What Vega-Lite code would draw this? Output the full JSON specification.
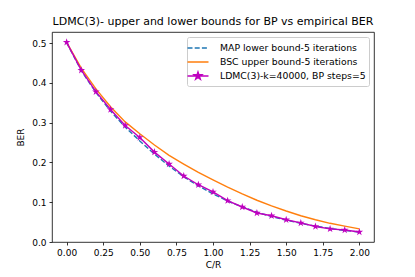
{
  "$schema": "https://vega.github.io/schema/vega-lite/v6.json",
  "autosize": {"type": "none"},
  "width": 322,
  "height": 210,
  "padding": {"left": 52, "top": 32, "right": 41, "bottom": 35},
  "title": {"text": "LDMC(3)- upper and lower bounds for BP vs empirical BER", "fontSize": 11, "font": "DejaVu Sans", "fontWeight": "normal", "color": "#000000", "offset": 5},
  "config": {
    "font": "DejaVu Sans",
    "view": {"stroke": "#000000", "strokeWidth": 0.8},
    "axis": {"domain": false, "grid": false, "tickColor": "#000000", "tickSize": 3, "tickWidth": 0.8, "labelFontSize": 9, "labelColor": "#000000", "labelPadding": 3, "titleFontSize": 9, "titleFontWeight": "normal", "titleColor": "#000000", "labelFont": "DejaVu Sans", "titleFont": "DejaVu Sans"}
  },
  "data": {"values": [
    {"cr": 0.0, "series": "MAP lower bound-5 iterations", "ber": 0.501},
    {"cr": 0.1, "series": "MAP lower bound-5 iterations", "ber": 0.431},
    {"cr": 0.2, "series": "MAP lower bound-5 iterations", "ber": 0.376},
    {"cr": 0.3, "series": "MAP lower bound-5 iterations", "ber": 0.329},
    {"cr": 0.4, "series": "MAP lower bound-5 iterations", "ber": 0.289},
    {"cr": 0.5, "series": "MAP lower bound-5 iterations", "ber": 0.254},
    {"cr": 0.6, "series": "MAP lower bound-5 iterations", "ber": 0.221},
    {"cr": 0.7, "series": "MAP lower bound-5 iterations", "ber": 0.191},
    {"cr": 0.8, "series": "MAP lower bound-5 iterations", "ber": 0.164},
    {"cr": 0.9, "series": "MAP lower bound-5 iterations", "ber": 0.141},
    {"cr": 1.0, "series": "MAP lower bound-5 iterations", "ber": 0.121},
    {"cr": 1.1, "series": "MAP lower bound-5 iterations", "ber": 0.103},
    {"cr": 1.2, "series": "MAP lower bound-5 iterations", "ber": 0.088},
    {"cr": 1.3, "series": "MAP lower bound-5 iterations", "ber": 0.075},
    {"cr": 1.4, "series": "MAP lower bound-5 iterations", "ber": 0.064},
    {"cr": 1.5, "series": "MAP lower bound-5 iterations", "ber": 0.055},
    {"cr": 1.6, "series": "MAP lower bound-5 iterations", "ber": 0.047},
    {"cr": 1.7, "series": "MAP lower bound-5 iterations", "ber": 0.040},
    {"cr": 1.8, "series": "MAP lower bound-5 iterations", "ber": 0.034},
    {"cr": 1.9, "series": "MAP lower bound-5 iterations", "ber": 0.029},
    {"cr": 2.0, "series": "MAP lower bound-5 iterations", "ber": 0.025},
    {"cr": 0.0, "series": "BSC upper bound-5 iterations", "ber": 0.502},
    {"cr": 0.1, "series": "BSC upper bound-5 iterations", "ber": 0.437},
    {"cr": 0.2, "series": "BSC upper bound-5 iterations", "ber": 0.385},
    {"cr": 0.3, "series": "BSC upper bound-5 iterations", "ber": 0.340},
    {"cr": 0.4, "series": "BSC upper bound-5 iterations", "ber": 0.302},
    {"cr": 0.5, "series": "BSC upper bound-5 iterations", "ber": 0.272},
    {"cr": 0.6, "series": "BSC upper bound-5 iterations", "ber": 0.244},
    {"cr": 0.7, "series": "BSC upper bound-5 iterations", "ber": 0.218},
    {"cr": 0.8, "series": "BSC upper bound-5 iterations", "ber": 0.196},
    {"cr": 0.9, "series": "BSC upper bound-5 iterations", "ber": 0.175},
    {"cr": 1.0, "series": "BSC upper bound-5 iterations", "ber": 0.156},
    {"cr": 1.1, "series": "BSC upper bound-5 iterations", "ber": 0.138},
    {"cr": 1.2, "series": "BSC upper bound-5 iterations", "ber": 0.121},
    {"cr": 1.3, "series": "BSC upper bound-5 iterations", "ber": 0.105},
    {"cr": 1.4, "series": "BSC upper bound-5 iterations", "ber": 0.091},
    {"cr": 1.5, "series": "BSC upper bound-5 iterations", "ber": 0.078},
    {"cr": 1.6, "series": "BSC upper bound-5 iterations", "ber": 0.066},
    {"cr": 1.7, "series": "BSC upper bound-5 iterations", "ber": 0.056},
    {"cr": 1.8, "series": "BSC upper bound-5 iterations", "ber": 0.047},
    {"cr": 1.9, "series": "BSC upper bound-5 iterations", "ber": 0.040},
    {"cr": 2.0, "series": "BSC upper bound-5 iterations", "ber": 0.033},
    {"cr": 0.0, "series": "LDMC(3)-k=40000, BP steps=5", "ber": 0.502},
    {"cr": 0.1, "series": "LDMC(3)-k=40000, BP steps=5", "ber": 0.432},
    {"cr": 0.2, "series": "LDMC(3)-k=40000, BP steps=5", "ber": 0.378},
    {"cr": 0.3, "series": "LDMC(3)-k=40000, BP steps=5", "ber": 0.333},
    {"cr": 0.4, "series": "LDMC(3)-k=40000, BP steps=5", "ber": 0.293},
    {"cr": 0.5, "series": "LDMC(3)-k=40000, BP steps=5", "ber": 0.263},
    {"cr": 0.6, "series": "LDMC(3)-k=40000, BP steps=5", "ber": 0.226},
    {"cr": 0.7, "series": "LDMC(3)-k=40000, BP steps=5", "ber": 0.196},
    {"cr": 0.8, "series": "LDMC(3)-k=40000, BP steps=5", "ber": 0.166},
    {"cr": 0.9, "series": "LDMC(3)-k=40000, BP steps=5", "ber": 0.144},
    {"cr": 1.0, "series": "LDMC(3)-k=40000, BP steps=5", "ber": 0.126},
    {"cr": 1.1, "series": "LDMC(3)-k=40000, BP steps=5", "ber": 0.104},
    {"cr": 1.2, "series": "LDMC(3)-k=40000, BP steps=5", "ber": 0.088},
    {"cr": 1.3, "series": "LDMC(3)-k=40000, BP steps=5", "ber": 0.073},
    {"cr": 1.4, "series": "LDMC(3)-k=40000, BP steps=5", "ber": 0.066},
    {"cr": 1.5, "series": "LDMC(3)-k=40000, BP steps=5", "ber": 0.056},
    {"cr": 1.6, "series": "LDMC(3)-k=40000, BP steps=5", "ber": 0.048},
    {"cr": 1.7, "series": "LDMC(3)-k=40000, BP steps=5", "ber": 0.039},
    {"cr": 1.8, "series": "LDMC(3)-k=40000, BP steps=5", "ber": 0.033},
    {"cr": 1.9, "series": "LDMC(3)-k=40000, BP steps=5", "ber": 0.030},
    {"cr": 2.0, "series": "LDMC(3)-k=40000, BP steps=5", "ber": 0.025}
  ]},
  "encoding": {
    "x": {"field": "cr", "type": "quantitative", "title": "C/R",
      "scale": {"domain": [-0.1, 2.1], "nice": false, "zero": false},
      "axis": {"values": [0, 0.25, 0.5, 0.75, 1.0, 1.25, 1.5, 1.75, 2.0], "format": ".2f", "titlePadding": 3}},
    "y": {"field": "ber", "type": "quantitative", "title": "BER",
      "scale": {"domain": [0, 0.528], "nice": false, "zero": false},
      "axis": {"values": [0, 0.1, 0.2, 0.3, 0.4, 0.5], "format": ".1f", "titlePadding": 6}},
    "color": {"field": "series", "type": "nominal",
      "scale": {"domain": ["MAP lower bound-5 iterations", "BSC upper bound-5 iterations", "LDMC(3)-k=40000, BP steps=5"], "range": ["#1f77b4", "#ff7f0e", "#bf00bf"]},
      "legend": {"title": null, "orient": "top-right", "offset": 5, "symbolType": "M-1.5,0L1.5,0", "symbolSize": 196, "symbolStrokeWidth": 1.4, "symbolOffset": 0,
        "labelFontSize": 9.3, "labelFont": "DejaVu Sans", "labelColor": "#000000", "labelOffset": 14,
        "fillColor": "#ffffff", "strokeColor": "#cccccc", "cornerRadius": 2, "padding": 3, "rowPadding": 0,
        "encode": {"symbols": {"update": {
          "shape": {"signal": "datum.value === 'LDMC(3)-k=40000, BP steps=5' ? 'M0,-0.57L0.13,-0.175L0.54,-0.175L0.21,0.068L0.335,0.46L0,0.218L-0.335,0.46L-0.21,0.068L-0.54,-0.175L-0.13,-0.175ZM-1.5,0L1.5,0' : 'M-1.5,0L1.5,0'"},
          "strokeDash": {"signal": "datum.value === 'MAP lower bound-5 iterations' ? [5, 2.2] : [1, 0]"},
          "fill": {"signal": "datum.value === 'LDMC(3)-k=40000, BP steps=5' ? '#bf00bf' : 'transparent'"}
        }}}}}
  },
  "layer": [
    {"transform": [{"filter": "datum.series === 'MAP lower bound-5 iterations'"}],
     "mark": {"type": "line", "strokeWidth": 1.4, "strokeDash": [5, 2.2]}},
    {"transform": [{"filter": "datum.series === 'BSC upper bound-5 iterations'"}],
     "mark": {"type": "line", "strokeWidth": 1.4}},
    {"transform": [{"filter": "datum.series === 'LDMC(3)-k=40000, BP steps=5'"}],
     "mark": {"type": "line", "strokeWidth": 1.4}},
    {"transform": [{"filter": "datum.series === 'LDMC(3)-k=40000, BP steps=5'"}],
     "mark": {"type": "point", "filled": true, "opacity": 1, "size": 64,
       "shape": "M0,-1L0.2245,-0.309L0.951,-0.309L0.363,0.118L0.588,0.809L0,0.382L-0.588,0.809L-0.363,0.118L-0.951,-0.309L-0.2245,-0.309Z"}}
  ]
}
